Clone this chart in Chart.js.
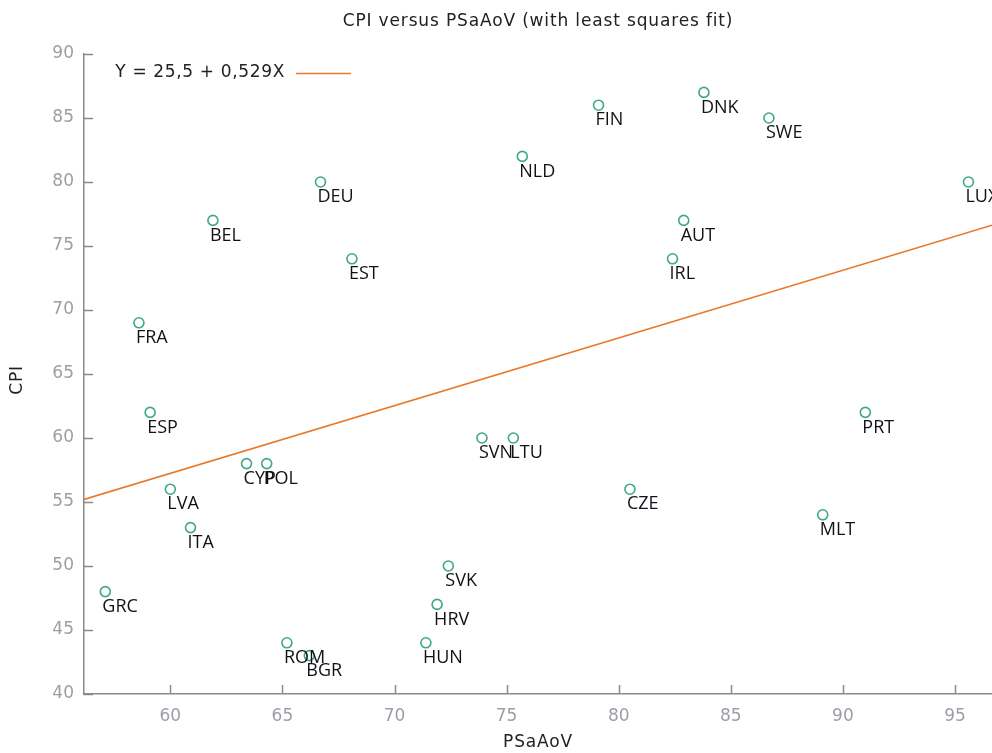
<!DOCTYPE html>
<html>
<head>
<meta charset="utf-8">
<title>CPI versus PSaAoV</title>
<script src="https://cdn.jsdelivr.net/npm/chart.js@4/dist/chart.umd.min.js"></script>
<style>
	html, body { margin: 0; padding: 0; background: #fff; }
	canvas { display: block; }
</style>
</head>
<body>
<canvas id="chart" width="992" height="753"></canvas>
<script>
// Country codes and their values (PSaAoV on x, CPI on y).
const countries = [ 'GRC', 'FRA', 'ESP', 'LVA', 'ITA', 'BEL', 'CYP', 'POL', 'ROM', 'BGR', 'DEU', 'EST', 'HUN', 'HRV',
	'SVK', 'SVN', 'LTU', 'NLD', 'FIN', 'CZE', 'IRL', 'AUT', 'DNK', 'SWE', 'MLT', 'PRT', 'LUX' ];
const psaaov = [ 57.1, 58.6, 59.1, 60.0, 60.9, 61.9, 63.4, 64.3, 65.2, 66.2, 66.7, 68.1, 71.4, 71.9,
	72.4, 73.9, 75.3, 75.7, 79.1, 80.5, 82.4, 82.9, 83.8, 86.7, 89.1, 91.0, 95.6 ];
const cpi = [ 48, 69, 62, 56, 53, 77, 58, 58, 44, 43, 80, 74, 44, 47,
	50, 60, 60, 82, 86, 56, 74, 77, 87, 85, 54, 62, 80 ];

// Least squares fit shown in the key.
const fitIntercept = 25.5;
const fitSlope = 0.529;
const fitLabel = 'Y = 25,5 + 0,529X';

// Axis ranges and ticks.
const xRange = [ 56.15, 96.65 ];
const yRange = [ 40, 90 ];
const xTicks = [ 60, 65, 70, 75, 80, 85, 90, 95 ];
const yTicks = [ 40, 45, 50, 55, 60, 65, 70, 75, 80, 85, 90 ];

const GREEN = '#3fa985';
const ORANGE = '#e8792c';
const AXIS = '#8a8a8a';
const TICK_TEXT = '#9d9da6';
const SANS = '"DejaVu Sans", Verdana, sans-serif';
const LABEL_FONT = '"Open Sans", "Noto Sans", sans-serif';

const points = countries.map( ( c, i ) => ( { x: psaaov[ i ], y: cpi[ i ], label: c } ) );
const fitLine = xRange.map( ( x ) => ( { x, y: fitIntercept + fitSlope * x } ) );

// Title, key, axis titles, inward tick marks and point labels.
const decorations = {
	id: 'decorations',
	afterDatasetsDraw( chart ) {
		const { ctx, chartArea: area, scales: { x, y } } = chart;
		ctx.save();

		// inward ticks
		ctx.strokeStyle = AXIS;
		ctx.lineWidth = 1.5;
		ctx.beginPath();
		xTicks.forEach( ( v ) => {
			const px = Math.round( x.getPixelForValue( v ) ) + 0.5;
			ctx.moveTo( px, area.bottom );
			ctx.lineTo( px, area.bottom - 9 );
		} );
		yTicks.forEach( ( v ) => {
			const py = Math.round( y.getPixelForValue( v ) ) + 0.5;
			ctx.moveTo( area.left, py );
			ctx.lineTo( area.left + 9, py );
		} );
		ctx.stroke();

		// point labels
		ctx.fillStyle = '#141018';
		ctx.font = '500 18px ' + LABEL_FONT;
		ctx.textAlign = 'left';
		ctx.textBaseline = 'middle';
		chart.getDatasetMeta( 0 ).data.forEach( ( el, i ) => {
			ctx.fillText( countries[ i ], el.x - 3, el.y + 15 );
		} );

		// title
		ctx.fillStyle = '#222';
		ctx.font = '17px ' + SANS;
		ctx.letterSpacing = '0.85px';
		ctx.textAlign = 'center';
		ctx.fillText( 'CPI versus PSaAoV (with least squares fit)', ( area.left + area.right ) / 2, 22 );

		// axis titles
		ctx.fillText( 'PSaAoV', ( area.left + area.right ) / 2, 743 );
		ctx.save();
		ctx.translate( 18, ( area.top + area.bottom ) / 2 + 6 );
		ctx.rotate( -Math.PI / 2 );
		ctx.fillText( 'CPI', 0, 0 );
		ctx.restore();

		// key
		ctx.letterSpacing = '0.65px';
		ctx.textAlign = 'right';
		ctx.fillText( fitLabel, 285, 73 );
		ctx.strokeStyle = ORANGE;
		ctx.lineWidth = 1.5;
		ctx.beginPath();
		ctx.moveTo( 296, 73.5 );
		ctx.lineTo( 351, 73.5 );
		ctx.stroke();

		ctx.restore();
	},
};

new Chart( document.getElementById( 'chart' ), {
	type: 'scatter',
	data: {
		datasets: [
			{
				label: 'CPI',
				data: points,
				pointStyle: 'circle',
				pointRadius: 5,
				pointBorderWidth: 1.6,
				pointBorderColor: GREEN,
				pointBackgroundColor: 'rgba(0,0,0,0)',
				order: 1,
			},
			{
				type: 'line',
				label: fitLabel,
				data: fitLine,
				borderColor: ORANGE,
				borderWidth: 1.6,
				pointRadius: 0,
				fill: false,
				order: 2,
			},
		],
	},
	options: {
		responsive: false,
		animation: false,
		layout: { autoPadding: false, padding: { top: 54, right: 0, bottom: 0, left: 0 } },
		plugins: { legend: { display: false }, tooltip: { enabled: false }, title: { display: false } },
		scales: {
			x: {
				type: 'linear',
				min: xRange[ 0 ],
				max: xRange[ 1 ],
				afterBuildTicks: ( s ) => { s.ticks = xTicks.map( ( v ) => ( { value: v } ) ); },
				afterFit: ( s ) => { s.height = 59; s.paddingLeft = 0; s.paddingRight = 0; },
				grid: { display: false, drawTicks: false },
				border: { display: true, color: AXIS, width: 1.5 },
				ticks: { color: TICK_TEXT, font: { family: SANS, size: 17 }, padding: 12, maxRotation: 0, autoSkip: false },
			},
			y: {
				type: 'linear',
				min: yRange[ 0 ],
				max: yRange[ 1 ],
				afterBuildTicks: ( s ) => { s.ticks = yTicks.map( ( v ) => ( { value: v } ) ); },
				afterFit: ( s ) => { s.width = 84; s.paddingTop = 0; s.paddingBottom = 0; },
				grid: { display: false, drawTicks: false },
				border: { display: true, color: AXIS, width: 1.5 },
				ticks: { color: TICK_TEXT, font: { family: SANS, size: 17 }, padding: 10, autoSkip: false },
			},
		},
	},
	plugins: [ decorations ],
} );
</script>
</body>
</html>
